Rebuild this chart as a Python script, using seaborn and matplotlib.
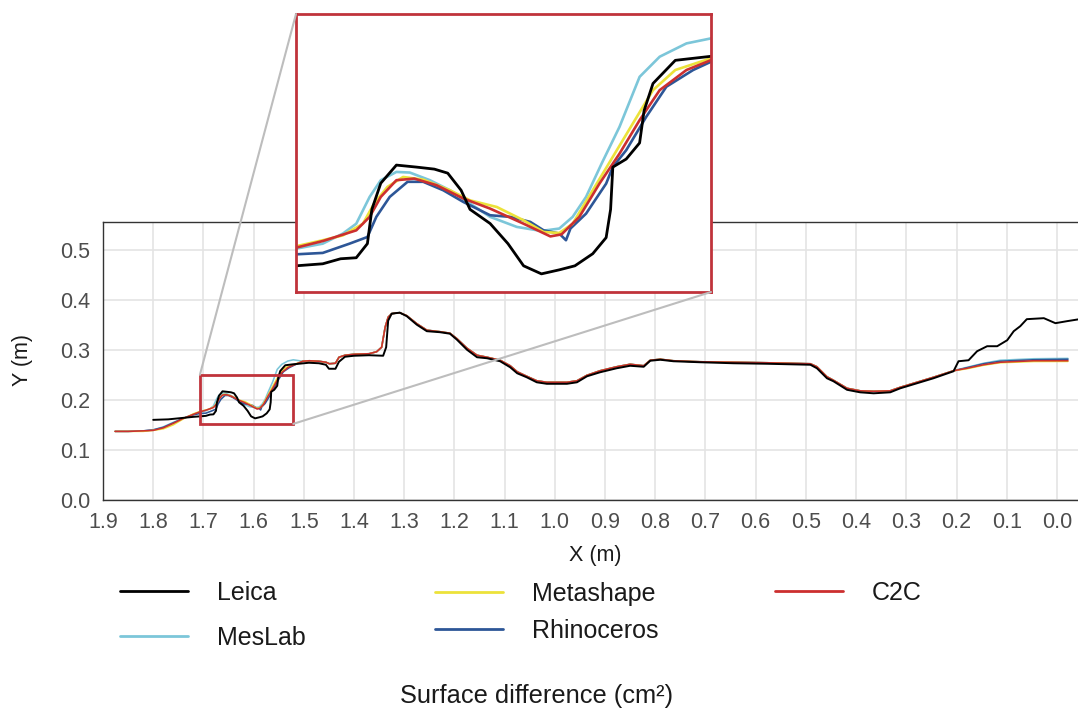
import matplotlib
matplotlib.use("Agg")
import matplotlib.pyplot as plt
import numpy as np
import pandas as pd
import seaborn as sns
from matplotlib.patches import Rectangle, ConnectionPatch
from matplotlib.lines import Line2D

# ---------------- data ----------------
SERIES = ["Leica", "MesLab", "Metashape", "Rhinoceros", "C2C"]
COLORS = {"Leica": "#000000", "MesLab": "#7cc6d9", "Metashape": "#ece23a",
          "Rhinoceros": "#2d5697", "C2C": "#cc2f2f"}

LEICA_X = [1.800, 1.770, 1.740, 1.720, 1.707, 1.695, 1.687, 1.680, 1.675, 1.673,
           1.669, 1.662, 1.653, 1.645, 1.639, 1.633, 1.629, 1.620, 1.612, 1.605,
           1.597, 1.589, 1.582, 1.574, 1.568, 1.566, 1.565, 1.559, 1.553, 1.551,
           1.547, 1.537, 1.529, 1.521, 1.510, 1.490, 1.470, 1.456, 1.450, 1.437,
           1.430, 1.418, 1.400, 1.370, 1.342, 1.336, 1.332, 1.325, 1.309, 1.295,
           1.275, 1.255, 1.229, 1.209, 1.195, 1.175, 1.155, 1.135, 1.109, 1.089,
           1.075, 1.056, 1.036, 1.016, 0.976, 0.956, 0.936, 0.910, 0.877, 0.850,
           0.823, 0.810, 0.790, 0.764, 0.711, 0.644, 0.578, 0.491, 0.478, 0.458,
           0.445, 0.418, 0.392, 0.365, 0.332, 0.312, 0.279, 0.246, 0.206, 0.196,
           0.176, 0.159, 0.139, 0.119, 0.099, 0.086, 0.073, 0.060, 0.026, 0.003,
           -0.020, -0.045]
LEICA_Y = [0.160, 0.161, 0.164, 0.166, 0.167, 0.168, 0.1705, 0.171, 0.178, 0.195,
           0.208, 0.217, 0.216, 0.215, 0.213, 0.2045, 0.195, 0.188, 0.178, 0.167,
           0.163, 0.165, 0.167, 0.173, 0.181, 0.195, 0.216, 0.220, 0.228, 0.244,
           0.2575, 0.269, 0.270, 0.271, 0.272, 0.274, 0.273, 0.270, 0.262, 0.262,
           0.276, 0.286, 0.288, 0.289, 0.288, 0.305, 0.358, 0.372, 0.374, 0.367,
           0.350, 0.337, 0.335, 0.332, 0.320, 0.300, 0.285, 0.283, 0.277, 0.265,
           0.253, 0.245, 0.235, 0.232, 0.232, 0.235, 0.247, 0.255, 0.263, 0.268,
           0.266, 0.278, 0.280, 0.277, 0.275, 0.273, 0.272, 0.270, 0.263, 0.243,
           0.237, 0.220, 0.215, 0.213, 0.215, 0.223, 0.233, 0.243, 0.257, 0.277,
           0.279, 0.297, 0.307, 0.307, 0.319, 0.337, 0.347, 0.361, 0.363, 0.353,
           0.357, 0.361]

# stretch where the four processed models overlap in the main view
MID_X = [1.502, 1.489, 1.470, 1.456, 1.449, 1.437, 1.430, 1.418, 1.400, 1.370,
         1.355, 1.345, 1.338, 1.332, 1.325, 1.309, 1.295, 1.275, 1.255, 1.229,
         1.209, 1.195, 1.175, 1.155, 1.135, 1.109, 1.089, 1.075, 1.056, 1.036,
         1.016, 0.976, 0.956, 0.936, 0.910, 0.877, 0.850, 0.823, 0.810, 0.790,
         0.764, 0.711, 0.644, 0.578, 0.491, 0.478, 0.458, 0.445, 0.418, 0.392,
         0.365, 0.332, 0.312, 0.279, 0.246, 0.206]
MID_Y = [0.277, 0.278, 0.277, 0.275, 0.272, 0.273, 0.285, 0.289, 0.291, 0.292,
         0.296, 0.305, 0.345, 0.365, 0.372, 0.374, 0.368, 0.352, 0.339, 0.336,
         0.333, 0.322, 0.303, 0.289, 0.285, 0.279, 0.268, 0.256, 0.247, 0.238,
         0.235, 0.235, 0.238, 0.249, 0.258, 0.266, 0.271, 0.268, 0.279, 0.281,
         0.278, 0.276, 0.275, 0.274, 0.272, 0.266, 0.246, 0.239, 0.223, 0.218,
         0.217, 0.218, 0.225, 0.235, 0.245, 0.258]

LEFT_X = [1.876, 1.850, 1.820, 1.800, 1.780, 1.760, 1.740, 1.720]
END_X = [0.179, 0.146, 0.113, 0.046, -0.022]

MESLAB_LEFT_Y = [0.137, 0.137, 0.138, 0.140, 0.146, 0.155, 0.163, 0.171]
MESLAB_ZOOM_X = [1.707, 1.695, 1.686, 1.680, 1.674, 1.669, 1.662, 1.656, 1.647, 1.638,
                 1.629, 1.620, 1.608, 1.597, 1.589, 1.583, 1.577, 1.570, 1.562, 1.553,
                 1.544, 1.532, 1.521]
MESLAB_ZOOM_Y = [0.1755, 0.178, 0.183, 0.1879, 0.2012, 0.2095, 0.2136, 0.2133, 0.2095, 0.2045,
                 0.1979, 0.1913, 0.1863, 0.1843, 0.1855, 0.1913, 0.2012, 0.2178, 0.236, 0.2608,
                 0.2708, 0.2774, 0.2799]
MESLAB_END_Y = [0.265, 0.273, 0.279, 0.282, 0.2827]

METASHAPE_LEFT_Y = [0.137, 0.137, 0.137, 0.139, 0.142, 0.150, 0.162, 0.172]
METASHAPE_ZOOM_X = [1.707, 1.695, 1.686, 1.677, 1.672, 1.666, 1.659, 1.650, 1.638, 1.629,
                    1.617, 1.605, 1.596, 1.589, 1.583, 1.574, 1.565, 1.556, 1.547, 1.537,
                    1.521]
METASHAPE_ZOOM_Y = [0.1767, 0.1797, 0.1821, 0.1879, 0.1979, 0.2062, 0.2111, 0.2098, 0.2045, 0.1995,
                    0.1962, 0.1896, 0.1838, 0.1833, 0.1879, 0.2045, 0.2211, 0.2377, 0.2542, 0.2642,
                    0.270]
METASHAPE_END_Y = [0.262, 0.269, 0.274, 0.2765, 0.2767]

C2C_LEFT_Y = [0.137, 0.137, 0.138, 0.139, 0.144, 0.153, 0.163, 0.171]
C2C_ZOOM_X = [1.707, 1.695, 1.680, 1.674, 1.669, 1.662, 1.654, 1.644, 1.632, 1.620,
              1.605, 1.593, 1.588, 1.580, 1.571, 1.562, 1.553, 1.544, 1.532, 1.521]
C2C_ZOOM_Y = [0.176, 0.1793, 0.1846, 0.1913, 0.2012, 0.2095, 0.2103, 0.207, 0.2004, 0.1954,
              0.1879, 0.1816, 0.1826, 0.1913, 0.2078, 0.2227, 0.2393, 0.2542, 0.2642, 0.2691]
C2C_END_Y = [0.263, 0.270, 0.275, 0.278, 0.278]

RHINO_LEFT_Y = [0.137, 0.137, 0.138, 0.140, 0.145, 0.154, 0.163, 0.170]
RHINO_ZOOM_X = [1.707, 1.695, 1.683, 1.675, 1.671, 1.665, 1.657, 1.650, 1.641, 1.632,
                1.620, 1.611, 1.602, 1.596, 1.589, 1.586, 1.584, 1.577, 1.568, 1.565,
                1.559, 1.550, 1.541, 1.529, 1.521]
RHINO_ZOOM_Y = [0.1727, 0.1734, 0.178, 0.1813, 0.1913, 0.2012, 0.2087, 0.2087, 0.2045, 0.1987,
                0.1921, 0.1913, 0.1888, 0.1846, 0.183, 0.1797, 0.1855, 0.1929, 0.2078, 0.2161,
                0.2244, 0.241, 0.2559, 0.2642, 0.2683]
RHINO_END_Y = [0.264, 0.272, 0.277, 0.280, 0.281]

X_TICKS = [1.9, 1.8, 1.7, 1.6, 1.5, 1.4, 1.3, 1.2, 1.1, 1.0,
           0.9, 0.8, 0.7, 0.6, 0.5, 0.4, 0.3, 0.2, 0.1, 0.0]
Y_TICKS = [0.0, 0.1, 0.2, 0.3, 0.4, 0.5]
ZOOM_XLIM = (1.707, 1.521)
ZOOM_BOX_Y = (0.152, 0.250)
ZOOM_YLIM = (0.154, 0.292)

# ---------------- build long table ----------------
def frame(name, xs, ys):
    return pd.DataFrame({"x": xs, "y": ys, "source": name})

df = pd.concat([
    frame("MesLab", LEFT_X + MESLAB_ZOOM_X + MID_X + END_X,
          MESLAB_LEFT_Y + MESLAB_ZOOM_Y + MID_Y + MESLAB_END_Y),
    frame("Rhinoceros", LEFT_X + RHINO_ZOOM_X + MID_X + END_X,
          RHINO_LEFT_Y + RHINO_ZOOM_Y + MID_Y + RHINO_END_Y),
    frame("Metashape", LEFT_X + METASHAPE_ZOOM_X + MID_X + END_X,
          METASHAPE_LEFT_Y + METASHAPE_ZOOM_Y + MID_Y + METASHAPE_END_Y),
    frame("C2C", LEFT_X + C2C_ZOOM_X + MID_X + END_X,
          C2C_LEFT_Y + C2C_ZOOM_Y + MID_Y + C2C_END_Y),
], ignore_index=True)
df_ref = frame("Leica", LEICA_X, LEICA_Y)
PROC_ORDER = ["MesLab", "Rhinoceros", "Metashape", "C2C"]

# ---------------- figure ----------------
sns.set_theme(style="whitegrid")
plt.rcParams["font.family"] = ["Liberation Sans", "DejaVu Sans"]

W, H = 1078, 709
fig = plt.figure(figsize=(W / 100, H / 100), dpi=100)
ax = fig.add_axes([103 / W, (H - 500) / H, (W - 103) / W, 278 / H])

sns.lineplot(data=df, x="x", y="y", hue="source", hue_order=PROC_ORDER,
             palette=COLORS, sort=False, estimator=None, linewidth=1.15,
             legend=False, ax=ax)
sns.lineplot(data=df_ref, x="x", y="y", color=COLORS["Leica"], sort=False,
             estimator=None, linewidth=1.4, legend=False, ax=ax)
ax.set_xlim(1.9, -0.042)
ax.set_ylim(0, 0.555)
ax.set_xticks(X_TICKS)
ax.set_xticklabels([f"{t:.1f}" for t in X_TICKS])
ax.set_yticks(Y_TICKS)
ax.set_yticklabels([f"{t:.1f}" for t in Y_TICKS])
ax.grid(True, color="#e4e4e4", linewidth=1.2)
ax.set_facecolor("white")
for s in ["left", "bottom", "top"]:
    ax.spines[s].set_visible(True)
    ax.spines[s].set_color("#333333")
    ax.spines[s].set_linewidth(1.0)
ax.spines["right"].set_visible(False)
ax.tick_params(axis="both", direction="out", length=6, width=1,
               color="#333333", labelcolor="#4d4d4d", labelsize=15.5, pad=3)
ax.set_xlabel("X (m)", fontsize=15.5, color="#1a1a1a")
ax.set_ylabel("Y (m)", fontsize=15.5, color="#1a1a1a")
ax.xaxis.set_label_coords(0.5046, -0.162)
ax.yaxis.set_label_coords(-0.072, 0.504)

RED = "#c0333b"
box = Rectangle((ZOOM_XLIM[1], ZOOM_BOX_Y[0]), ZOOM_XLIM[0] - ZOOM_XLIM[1],
                ZOOM_BOX_Y[1] - ZOOM_BOX_Y[0], fill=False, edgecolor=RED,
                linewidth=2, zorder=5)
ax.add_patch(box)

# inset
axins = fig.add_axes([296 / W, (H - 292) / H, 415 / W, 278 / H])
sns.lineplot(data=df, x="x", y="y", hue="source", hue_order=PROC_ORDER,
             palette=COLORS, sort=False, estimator=None, linewidth=1.9,
             legend=False, ax=axins)
sns.lineplot(data=df_ref, x="x", y="y", color=COLORS["Leica"], sort=False,
             estimator=None, linewidth=2.0, legend=False, ax=axins)
axins.set_xlim(*ZOOM_XLIM)
axins.set_ylim(*ZOOM_YLIM)
axins.set_xticks([])
axins.set_yticks([])
axins.set_xlabel("")
axins.set_ylabel("")
axins.grid(False)
axins.set_facecolor("white")
for s in axins.spines.values():
    s.set_visible(True)
    s.set_color(RED)
    s.set_linewidth(2)

for xyA, xyB in [((ZOOM_XLIM[0], ZOOM_BOX_Y[1]), (0, 1)),
                 ((ZOOM_XLIM[1], ZOOM_BOX_Y[0]), (1, 0))]:
    con = ConnectionPatch(xyA=xyA, coordsA=ax.transData, xyB=xyB,
                          coordsB=axins.transAxes, color="#bdbdbd",
                          linewidth=1.5, zorder=1)
    fig.add_artist(con)

# legends
def handle(name):
    return Line2D([0], [0], color=COLORS[name], linewidth=2)

leg_kw = dict(frameon=False, fontsize=18, handlelength=2.72, handletextpad=1.16,
              borderpad=0, borderaxespad=0, loc="center left", labelcolor="#1a1a1a")
fig.legend([handle("Leica"), handle("MesLab")], ["Leica", "MesLab"],
           bbox_to_anchor=(120 / W, (H - 615.5) / H), labelspacing=0.84, **leg_kw)
fig.legend([handle("Metashape"), handle("Rhinoceros")], ["Metashape", "Rhinoceros"],
           bbox_to_anchor=(435 / W, (H - 612) / H), labelspacing=0.52, **leg_kw)
fig.legend([handle("C2C")], ["C2C"],
           bbox_to_anchor=(775 / W, (H - 593) / H), **leg_kw)

fig.text(537 / W, 0.008, "Surface difference (cm²)", ha="center", va="baseline",
         fontsize=18.3, color="#1a1a1a")

fig.savefig("out.png", dpi=100)
